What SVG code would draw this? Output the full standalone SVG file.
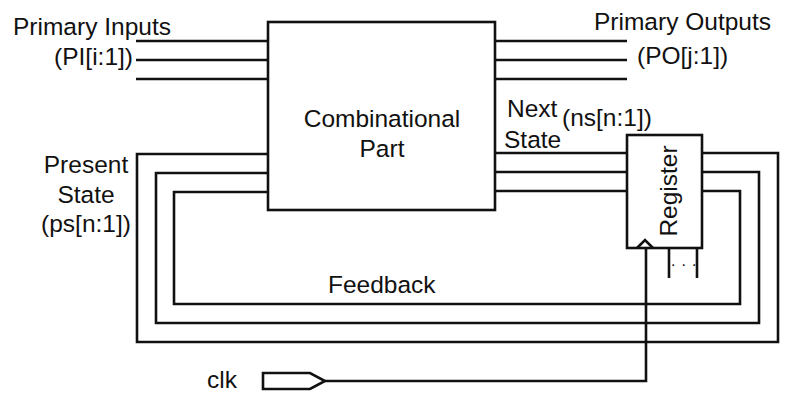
<svg xmlns="http://www.w3.org/2000/svg" width="812" height="414" viewBox="0 0 812 414">
<style>
.w{fill:none;stroke:#111;stroke-width:2.6;stroke-linejoin:miter}
.b{fill:#fff;stroke:#111;stroke-width:2.6}
text{font-family:"Liberation Sans",Arial,sans-serif;font-size:24.5px;fill:#111}
.m{text-anchor:middle}
.e{text-anchor:end}
</style>
<rect width="812" height="414" fill="#fff"/>
<g id="connectors">
<path class="w" d="M136 41H268M136 60H268M136 79H268"/>
<path class="w" d="M495 41H627M495 60H627M495 79H627"/>
<path class="w" d="M495 153H627M495 172H627M495 191H627"/>
<path class="w" d="M702 153H778V342H137V154H268"/>
<path class="w" d="M702 172H759V323H156V173H268"/>
<path class="w" d="M702 191H740V304H174V192H268"/>
<path class="w" d="M325 381H646V248"/>
<path class="w" d="M669 248V278M697 248V278"/>
</g>
<g id="combinational">
<rect class="b" x="268" y="22" width="227" height="188"/>
<text class="m" x="382" y="127">Combinational</text>
<text class="m" x="382" y="157">Part</text>
</g>
<g id="register">
<rect class="b" x="627" y="135" width="75" height="113"/>
<path class="w" d="M637 248L645 240L653 248"/>
<text class="m" transform="translate(677 191) rotate(-90)">Register</text>
<text x="671" y="266" style="font-size:16px;letter-spacing:6px">...</text>
</g>
<g id="clk">
<path class="w" d="M263 373H310L325 381L310 389H263Z"/>
<text x="207" y="388">clk</text>
</g>
<g id="labels">
<text x="13" y="35">Primary Inputs</text>
<text class="e" x="133" y="65">(PI[i:1])</text>
<text x="594" y="30">Primary Outputs</text>
<text x="637" y="64">(PO[j:1])</text>
<text x="507" y="117">Next</text>
<text x="504" y="148">State</text>
<text x="562" y="126">(ns[n:1])</text>
<text class="m" x="86" y="173">Present</text>
<text class="m" x="86" y="203">State</text>
<text class="m" x="86" y="232">(ps[n:1])</text>
<text x="328" y="293">Feedback</text>
</g>
</svg>
